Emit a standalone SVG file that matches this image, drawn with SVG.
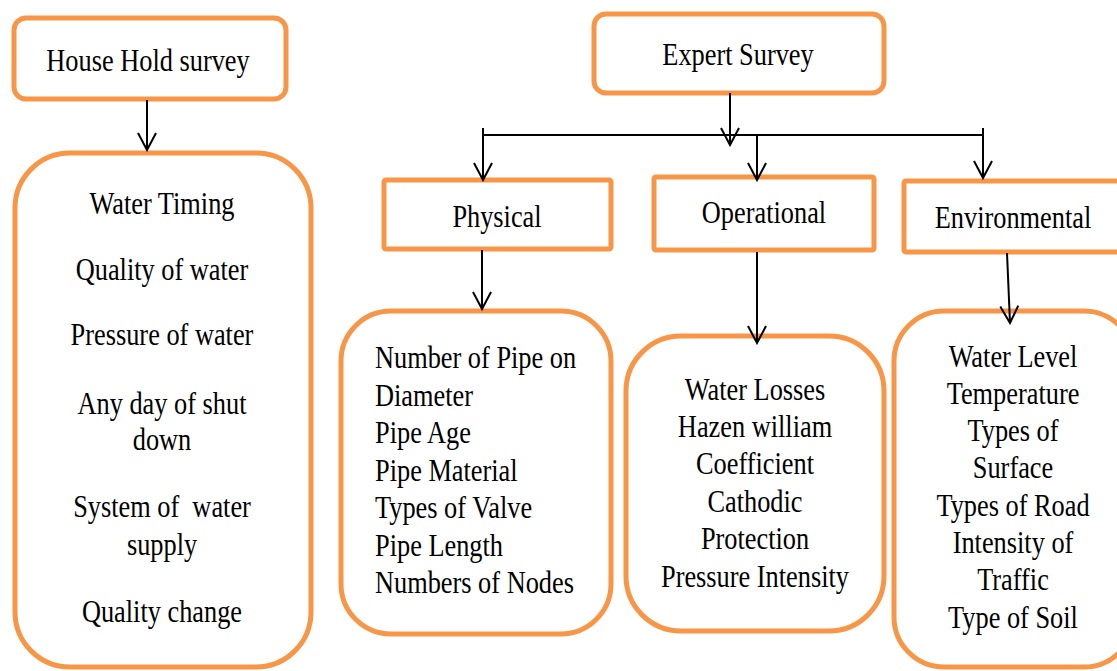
<svg xmlns="http://www.w3.org/2000/svg" width="1117" height="671" viewBox="0 0 1117 671">
<style>
.box{fill:#fff;stroke:#F79646;stroke-width:5}
.t{font-family:"Liberation Serif","Times New Roman",serif;font-size:31px;fill:#000}
.c{text-anchor:middle}
.ln{fill:none;stroke:#000;stroke-width:2}
</style>
<defs>
<marker id="ah" markerUnits="userSpaceOnUse" viewBox="0 0 20 20" refX="18" refY="10" markerWidth="20" markerHeight="20" orient="auto">
<path d="M1,1 L18,10 L1,19" fill="none" stroke="#000" stroke-width="2"/>
</marker>
</defs>
<rect width="1117" height="671" fill="#fff"/>
<g id="household">
<rect class="box" x="14" y="18" width="272" height="81" rx="12"/>
<g transform="translate(148,0) scale(0.85,1)"><text class="t c" x="0" y="71">House Hold survey</text></g>
</g>
<g id="household-list">
<rect class="box" x="15" y="153" width="296" height="514" rx="55"/>
<g transform="translate(162,0) scale(0.85,1)">
<text class="t c" x="0" y="214">Water Timing</text>
<text class="t c" x="0" y="280">Quality of water</text>
<text class="t c" x="0" y="345">Pressure of water</text>
<text class="t c" x="0" y="414">Any day of shut</text>
<text class="t c" x="0" y="450">down</text>
<text class="t c" x="0" y="517" xml:space="preserve">System of  water</text>
<text class="t c" x="0" y="555">supply</text>
<text class="t c" x="0" y="622">Quality change</text>
</g>
</g>
<g id="expert">
<rect class="box" x="594" y="14" width="290" height="79" rx="12"/>
<g transform="translate(738,0) scale(0.85,1)"><text class="t c" x="0" y="65">Expert Survey</text></g>
</g>
<g id="physical">
<rect class="box" x="384" y="180" width="227" height="69" rx="2"/>
<g transform="translate(497,0) scale(0.85,1)"><text class="t c" x="0" y="227">Physical</text></g>
</g>
<g id="operational">
<rect class="box" x="654" y="177" width="220" height="73" rx="2"/>
<g transform="translate(764,0) scale(0.85,1)"><text class="t c" x="0" y="223">Operational</text></g>
</g>
<g id="environmental">
<rect class="box" x="904" y="181" width="225" height="71" rx="2"/>
<g transform="translate(1013,0) scale(0.85,1)"><text class="t c" x="0" y="228">Environmental</text></g>
</g>
<g id="physical-list">
<rect class="box" x="341" y="311" width="270" height="323" rx="50"/>
<g transform="translate(375,0) scale(0.85,1)">
<text class="t" x="0" y="368">Number of Pipe on</text>
<text class="t" x="0" y="406">Diameter</text>
<text class="t" x="0" y="443">Pipe Age</text>
<text class="t" x="0" y="481">Pipe Material</text>
<text class="t" x="0" y="518">Types of Valve</text>
<text class="t" x="0" y="556">Pipe Length</text>
<text class="t" x="0" y="593">Numbers of Nodes</text>
</g>
</g>
<g id="operational-list">
<rect class="box" x="626" y="336" width="258" height="295" rx="55"/>
<g transform="translate(755,0) scale(0.85,1)">
<text class="t c" x="0" y="400">Water Losses</text>
<text class="t c" x="0" y="437">Hazen william</text>
<text class="t c" x="0" y="474">Coefficient</text>
<text class="t c" x="0" y="512">Cathodic</text>
<text class="t c" x="0" y="549">Protection</text>
<text class="t c" x="0" y="587">Pressure Intensity</text>
</g>
</g>
<g id="environmental-list">
<rect class="box" x="894" y="311" width="240" height="356" rx="50"/>
<g transform="translate(1013,0) scale(0.85,1)">
<text class="t c" x="0" y="367">Water Level</text>
<text class="t c" x="0" y="404">Temperature</text>
<text class="t c" x="0" y="441">Types of</text>
<text class="t c" x="0" y="478">Surface</text>
<text class="t c" x="0" y="516">Types of Road</text>
<text class="t c" x="0" y="553">Intensity of</text>
<text class="t c" x="0" y="590">Traffic</text>
<text class="t c" x="0" y="628">Type of Soil</text>
</g>
</g>
<g id="connectors">
<line class="ln" x1="147" y1="100" x2="147" y2="150" marker-end="url(#ah)"/>
<line class="ln" x1="730" y1="93" x2="730" y2="145" marker-end="url(#ah)"/>
<line class="ln" x1="483" y1="135" x2="983" y2="135"/>
<line class="ln" x1="483" y1="128" x2="483" y2="180" marker-end="url(#ah)"/>
<line class="ln" x1="757" y1="135" x2="757" y2="180" marker-end="url(#ah)"/>
<line class="ln" x1="983" y1="128" x2="983" y2="178" marker-end="url(#ah)"/>
<line class="ln" x1="482" y1="250" x2="482" y2="309" marker-end="url(#ah)"/>
<line class="ln" x1="757" y1="252" x2="757" y2="343" marker-end="url(#ah)"/>
<line class="ln" x1="1007" y1="253" x2="1010" y2="323" marker-end="url(#ah)"/>
</g>
</svg>
